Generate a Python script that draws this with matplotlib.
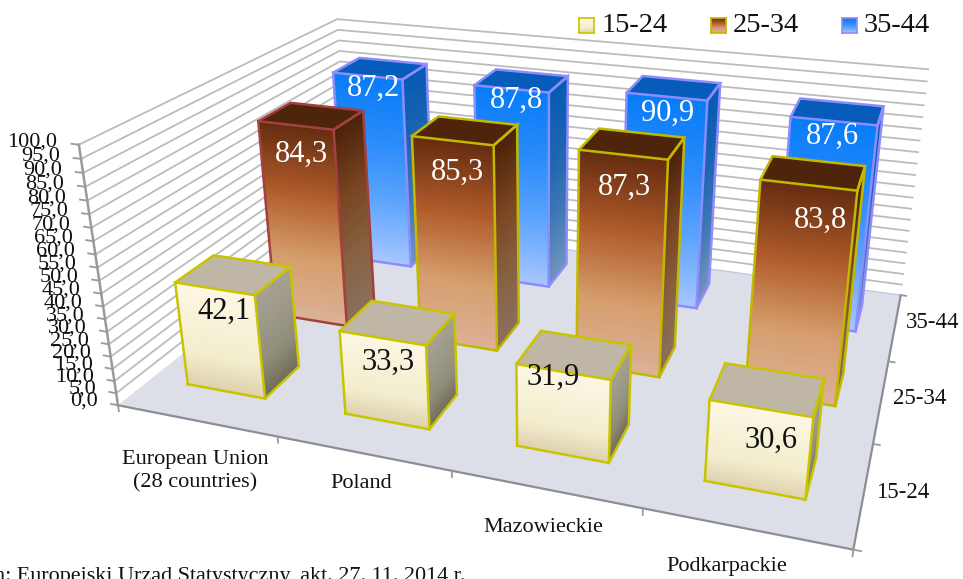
import numpy as np
import matplotlib
matplotlib.use('Agg')
import matplotlib.pyplot as plt
from matplotlib.colors import LinearSegmentedColormap
from mpl_toolkits.mplot3d.art3d import Poly3DCollection

plt.rcParams['font.family'] = ['Liberation Serif', 'DejaVu Serif']

W, H = 963, 579

categories = ['European Union\n(28 countries)', 'Poland', 'Mazowieckie', 'Podkarpackie']
age_groups = ['15-24', '25-34', '35-44']
values_15_24 = [42.1, 33.3, 31.9, 30.6]
values_25_34 = [84.3, 85.3, 87.3, 83.8]
values_35_44 = [87.2, 87.8, 90.9, 87.6]
z_ticks = list(range(0, 101, 5))

# colours, first list is the front face top to bottom, second the side
FRONT = {
    '15-24': ['#fff7e4', '#f8f2d8', '#f3eecd', '#dfd1af'],
    '25-34': ['#672d10', '#b15c2a', '#d59d6b', '#dcb196'],
    '35-44': ['#077cf8', '#2a8bfa', '#5fa5fd', '#a6c6ff'],
}
SIDE = {
    '15-24': ['#a6a193', '#9c9887', '#8f8c78', '#6f6b58'],
    '25-34': ['#4d2208', '#7a4420', '#86613f', '#8a6f5c'],
    '35-44': ['#055ab4', '#1c64b0', '#3f78b4', '#7392bd'],
}
TOP = {'15-24': '#bfb6a6', '25-34': '#4e240b', '35-44': '#055cba'}
EDGE = {'15-24': '#c9c400', '25-34': '#c2b800', '35-44': '#8c8cff'}
EU_EDGE = '#a2413f'
AXIS = '#9a9a9a'
INK = '#111111'

BAR_X0, BAR_W = 0.225, 0.50
BAR_Y0, BAR_D = 0.345, 0.41
ROW_SHIFT = {'15-24': 0.01, '25-34': 0.04, '35-44': 0.05}

# label nudges in pixels (right, down) from the bar top
LABEL_NUDGE = {
    '15-24': [(7, 23), (4, 25), (-9, 7), (10, 29)],
    '25-34': [(4, 32), (4, 33), (2, 33), (13, 33)],
    '35-44': [(6, 14), (6, 13), (2, 18), (0, 17)],
}


def px(x, y):
    return x / W, 1 - y / H


def comma(v):
    return ('%.1f' % v).replace('.', ',')


def slabs(ax, corners, z_top, colors, zorder, n=50):
    # one face cut in thin slabs to get the vertical gradient
    cmap = LinearSegmentedColormap.from_list('f', colors)
    (xa, ya), (xb, yb) = corners
    dz = np.linspace(z_top, 0, n + 1)
    verts = [[(xa, ya, dz[i]), (xb, yb, dz[i]), (xb, yb, dz[i + 1]), (xa, ya, dz[i + 1])] for i in range(n)]
    cols = [cmap(i / (n - 1)) for i in range(n)]
    ax.add_collection3d(Poly3DCollection(verts, facecolors=cols, edgecolors=cols, linewidths=0.5, zorder=zorder))


def draw_bar(ax, i, j, value, group, edge, zorder):
    x0 = i + BAR_X0 + ROW_SHIFT[group]
    x1 = x0 + BAR_W
    y0, y1 = j + BAR_Y0, j + BAR_Y0 + BAR_D
    slabs(ax, ((x1, y0), (x1, y1)), value, SIDE[group], zorder)
    slabs(ax, ((x0, y0), (x1, y0)), value, FRONT[group], zorder + 0.1)
    top = [[(x0, y0, value), (x1, y0, value), (x1, y1, value), (x0, y1, value)]]
    ax.add_collection3d(Poly3DCollection(top, facecolors=TOP[group], edgecolors='none', zorder=zorder + 0.2))
    outline = [
        ([x0, x1, x1, x0, x0], [y0, y0, y0, y0, y0], [0, 0, value, value, 0]),
        ([x1, x1, x1, x1], [y0, y1, y1, y0], [0, 0, value, value]),
        ([x0, x0, x1, x1], [y0, y1, y1, y0], [value, value, value, value]),
    ]
    for xs, ys, zs in outline:
        ax.plot(xs, ys, zs, color=edge, lw=1.8, solid_joinstyle='miter', zorder=zorder + 0.3, clip_on=False)


fig = plt.figure(figsize=(W / 100, H / 100), dpi=100)
ax = fig.add_axes([101.6 / W, -90.7 / H, 857.3 / W, 857.3 / H], projection='3d', computed_zorder=False)
ax.set_xlim(0, 4)
ax.set_ylim(0, 3)
ax.set_zlim(0, 100)
ax.view_init(22.93, -71.16, 0.03)
ax.set_proj_type('persp', focal_length=0.2748)
ax.set_box_aspect((4, 2.8344, 1.5253))
ax.set_axis_off()

# floor
floor = [[(0, 0, 0), (4, 0, 0), (4, 3, 0), (0, 3, 0)]]
ax.add_collection3d(Poly3DCollection(floor, facecolors='#dcdfe8', edgecolors='none', zorder=1))
ax.plot([0, 4], [3, 3], [0, 0], color='#c4c4e8', lw=1, zorder=1.1, clip_on=False)
ax.plot([0, 4, 4], [0, 0, 3], [0, 0, 0], color='#8d8d98', lw=1.6, zorder=1.2, clip_on=False)

# walls
for z in z_ticks[1:]:
    ax.plot([0, 0, 4], [0, 3, 3], [z, z, z], color='#bcbcbc', lw=1.3, zorder=0.5, clip_on=False)

# axes ticks
ax.plot([0, 0], [0, 0], [0, 100], color=AXIS, lw=1.8, zorder=1.3, clip_on=False)
for z in z_ticks:
    ax.plot([-0.045, 0], [0, 0], [z, z], color=AXIS, lw=1.3, zorder=1.3, clip_on=False)
    ax.text(-0.13, 0, z, comma(z), ha='right', va='center', fontsize=16, color=INK, zorder=2)
for i in range(5):
    ax.plot([i, i], [0, 0], [0, -2.5], color=AXIS, lw=1.3, zorder=1.3, clip_on=False)
for j in range(4):
    ax.plot([4, 4.035], [j, j], [0, 0], color=AXIS, lw=1.3, zorder=1.3, clip_on=False)

# bars, back row first
rows = [('35-44', 2, values_35_44), ('25-34', 1, values_25_34), ('15-24', 0, values_15_24)]
for r, (group, j, vals) in enumerate(rows):
    for i, v in enumerate(vals):
        edge = EU_EDGE if (group == '25-34' and i == 0) else EDGE[group]
        zo = 10 + r * 10 + i * 2
        draw_bar(ax, i, j, v, group, edge, zo)
        nx, ny = LABEL_NUDGE[group][i]
        ax.text(i + BAR_X0 + ROW_SHIFT[group] + BAR_W / 2 + nx / 165, j + BAR_Y0, v - ny / 2.7, comma(v),
                ha='center', va='center', fontsize=22, color=INK if group == '15-24' else 'white', zorder=60)

# axis labels
for name, (x, y) in zip(categories, [(195, 471), (361, 484), (543, 527), (727, 567)]):
    fig.text(*px(x, y), name, ha='center', va='center', fontsize=16, linespacing=1.3, color=INK)
for name, (x, y) in zip(age_groups, [(903, 493), (920, 398), (933, 323)]):
    fig.text(*px(x, y), name, ha='center', va='center', fontsize=16.5, color=INK)

# legend
for group, sx, tx in zip(age_groups, [579, 711, 842], [602, 733, 864]):
    lax = fig.add_axes([sx / W, 1 - 33 / H, 15 / W, 15 / H])
    grad = np.linspace(0, 1, 30).reshape(-1, 1)
    lax.imshow(grad, aspect='auto', cmap=LinearSegmentedColormap.from_list('l', FRONT[group]))
    lax.set_xticks([])
    lax.set_yticks([])
    for s in lax.spines.values():
        s.set_color(EDGE[group])
        s.set_linewidth(1.2)
    fig.text(*px(tx, 25), group, ha='left', va='center', fontsize=20.5, color=INK)

fig.text(*px(-5.5, 581), 'n: Europeiski Urząd Statystyczny, akt. 27. 11. 2014 r.', ha='left', va='baseline',
         fontsize=15.9, color=INK)

fig.savefig('out.png', dpi=100)
